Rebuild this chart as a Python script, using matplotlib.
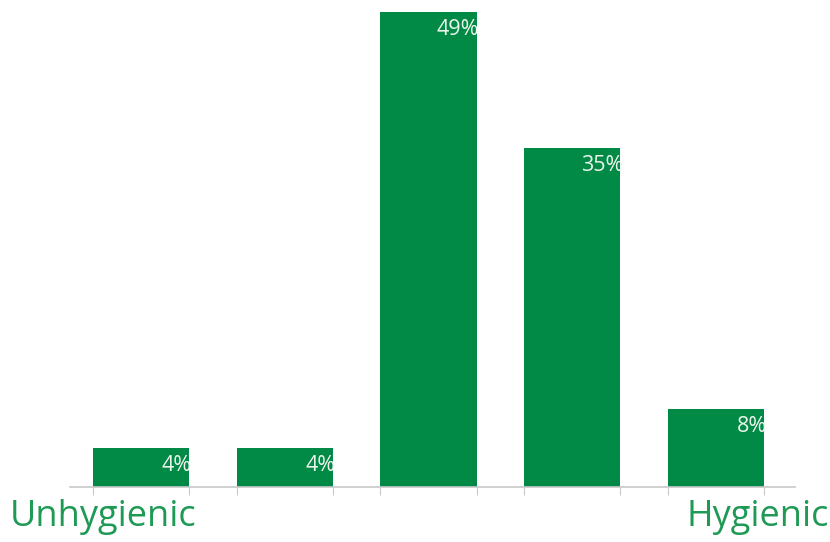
import numpy as np
import matplotlib
matplotlib.use("Agg")
import matplotlib.pyplot as plt

# Data
categories = ["1", "2", "3", "4", "5"]
values = [4, 4, 49, 35, 8]
labels = ["4%", "4%", "49%", "35%", "8%"]

green = "#008a45"
text_green = "#1e9a55"

fig = plt.figure(figsize=(8.3, 5.42), dpi=100)
ax = fig.add_axes([70 / 830, 55 / 542, 725 / 830, 475 / 542])

x = np.arange(len(categories))
width = 0.67
bars = ax.bar(x, values, width=width, color=green, zorder=2)

ax.set_xlim(-0.494, 4.55)
ax.set_ylim(0, 49)

for b, lab in zip(bars, labels):
    ax.annotate(lab, (b.get_x() + b.get_width(), b.get_height()),
                xytext=(2, -5), textcoords="offset points",
                ha="right", va="top", color="#eef5ee", fontsize=15.5,
                family="Open Sans", zorder=3)

# ticks at bar edges
edges = np.concatenate([x - width / 2, x + width / 2])
ax.set_xticks(edges)
ax.set_xticklabels([])
ax.tick_params(axis="x", length=6, color="#c8c8c8", direction="out")
ax.set_yticks([])

for s in ["top", "right", "left"]:
    ax.spines[s].set_visible(False)
ax.spines["bottom"].set_color("#c8c8c8")
ax.spines["bottom"].set_linewidth(1.2)

fig.text(10 / 830, 1 - 517 / 542, "Unhygienic", color=text_green,
         fontsize=26, family="Open Sans", ha="left", va="center")
fig.text(829 / 830, 1 - 517 / 542, "Hygienic", color=text_green,
         fontsize=26, family="Open Sans", ha="right", va="center")

fig.savefig("out.png", dpi=100)
